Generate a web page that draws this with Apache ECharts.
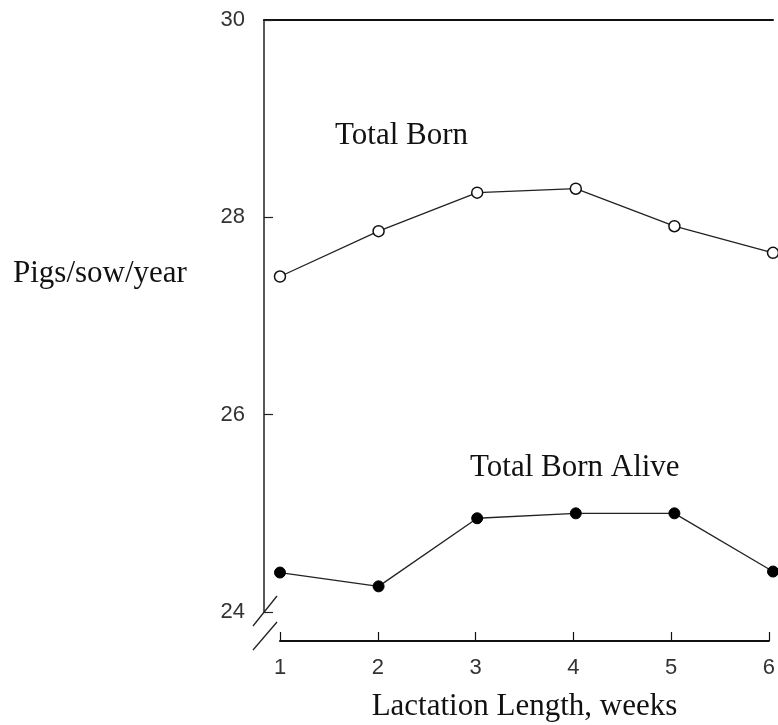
<!DOCTYPE html>
<html><head><meta charset="utf-8">
<script src="https://cdn.jsdelivr.net/npm/echarts@6/dist/echarts.min.js"></script>
<style>html,body{margin:0;padding:0;background:#fff}#c{width:778px;height:725px}</style>
</head><body><div id="c"></div>
<script>
var weeks = [1, 2, 3, 4, 5, 6];
var totalBorn = [27.40, 27.86, 28.25, 28.29, 27.91, 27.64];
var totalBornAlive = [24.40, 24.26, 24.95, 25.00, 25.00, 24.41];
var yTicks = [24, 26, 28, 30];
var xTitle = 'Lactation Length, weeks';
var yTitle = 'Pigs/sow/year';
var label1 = 'Total Born';
var label2 = 'Total Born Alive';

var serif = '"Liberation Serif","Times New Roman",serif';
var sans = '"Liberation Sans Narrow","Liberation Sans",Arial,sans-serif';
var chart = echarts.init(document.getElementById('c'), null, {renderer: 'canvas'});
chart.setOption({
  animation: false,
  backgroundColor: '#fff',
  grid: [
    {left: 264, right: 5, top: 20, bottom: 113},
    {left: 280, right: 5, top: 600, bottom: 84}
  ],
  xAxis: [
    {gridIndex: 0, type: 'value', min: 0.838, max: 6, show: false},
    {gridIndex: 0, type: 'value', position: 'top', min: 0.838, max: 6,
     axisLine: {show: true, lineStyle: {color: '#111', width: 2}},
     axisTick: {show: false}, axisLabel: {show: false}, splitLine: {show: false}},
    {gridIndex: 1, type: 'value', min: 1, max: 6, interval: 1,
     axisLine: {show: true, lineStyle: {color: '#111', width: 2}},
     axisTick: {show: true, inside: true, length: 9, lineStyle: {color: '#111', width: 1.2}},
     axisLabel: {margin: 16, fontSize: 22, color: '#333', fontFamily: sans,
       formatter: function (v) { return weeks.indexOf(v) >= 0 ? String(v) : ''; }},
     splitLine: {show: false},
     name: xTitle, nameLocation: 'middle', nameGap: 50,
     nameTextStyle: {fontFamily: serif, fontSize: 31, color: '#111'}}
  ],
  yAxis: [
    {gridIndex: 0, type: 'value', min: 24, max: 30, interval: 2,
     axisLine: {show: true, lineStyle: {color: '#222', width: 1.5}},
     axisTick: {show: true, inside: true, length: 9, lineStyle: {color: '#222', width: 1.2}},
     axisLabel: {margin: 19, fontSize: 22, color: '#333', fontFamily: sans,
       formatter: function (v) { return yTicks.indexOf(v) >= 0 ? String(v) : ''; }},
     splitLine: {show: false}},
    {gridIndex: 1, type: 'value', show: false}
  ],
  graphic: [
    {type: 'text', left: 335, top: 120, style: {text: label1, font: '31px ' + serif, fill: '#111'}},
    {type: 'text', left: 470, top: 452, style: {text: label2, font: '31px ' + serif, fill: '#111'}},
    {type: 'text', left: 13, top: 258, style: {text: yTitle, font: '31px ' + serif, fill: '#111'}},
    {type: 'line', shape: {x1: 253, y1: 626, x2: 277, y2: 596}, style: {stroke: '#222', lineWidth: 1.3}},
    {type: 'line', shape: {x1: 253, y1: 650, x2: 277, y2: 622}, style: {stroke: '#222', lineWidth: 1.3}}
  ],
  series: [
    {type: 'line', xAxisIndex: 0, yAxisIndex: 0, name: label1,
     data: weeks.map(function (w, i) { return [w, totalBorn[i]]; }),
     symbol: 'circle', symbolSize: 11,
     itemStyle: {color: '#fff', borderColor: '#111', borderWidth: 1.5},
     lineStyle: {color: '#222', width: 1.3}},
    {type: 'line', xAxisIndex: 0, yAxisIndex: 0, name: label2,
     data: weeks.map(function (w, i) { return [w, totalBornAlive[i]]; }),
     symbol: 'circle', symbolSize: 11,
     itemStyle: {color: '#000', borderColor: '#000', borderWidth: 1},
     lineStyle: {color: '#222', width: 1.3}}
  ]
});
</script></body></html>
